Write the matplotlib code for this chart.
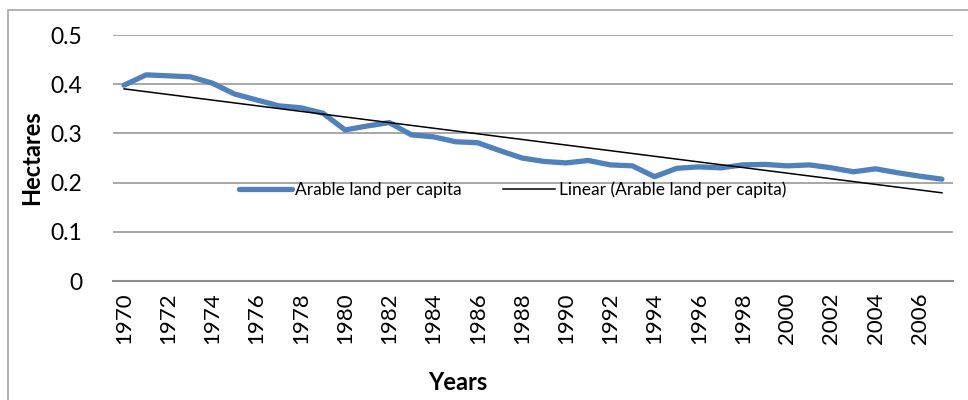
import numpy as np
import matplotlib.pyplot as plt
from matplotlib.patches import Rectangle

plt.rcParams['font.family'] = ['Lato', 'DejaVu Sans']

# data
years = list(range(1970, 2008))
arable = [0.398, 0.419, 0.417, 0.415, 0.402, 0.380, 0.368, 0.356, 0.352, 0.341,
          0.307, 0.315, 0.322, 0.297, 0.293, 0.283, 0.281, 0.265, 0.250, 0.243,
          0.240, 0.245, 0.236, 0.234, 0.212, 0.229, 0.232, 0.230, 0.236, 0.237,
          0.234, 0.236, 0.230, 0.222, 0.228, 0.220, 0.213, 0.207]
yticks = [0, 0.1, 0.2, 0.3, 0.4, 0.5]
ytick_labels = ['0', '0.1', '0.2', '0.3', '0.4', '0.5']

x = np.arange(len(years))
slope, icpt = np.polyfit(x, arable, 1)
trend = slope * x + icpt

fig = plt.figure(figsize=(9.68, 4), dpi=100)
ax = fig.add_axes([113 / 968, 1 - 281 / 400, 840 / 968, 246 / 400])

# outer chart frame
fig.patches.append(Rectangle((8 / 968, -0.1), 2, 1 - 10 / 400 + 0.1,
                             transform=fig.transFigure, fill=False,
                             edgecolor='#a6a6a6', lw=1.2))

ax.plot(x, arable, color='#4f81bd', lw=3.8, solid_capstyle='round',
        solid_joinstyle='round', label='Arable land per capita')
ax.plot(x, trend, color='black', lw=1.1, label='Linear (Arable land per capita)')

ax.set_xlim(-0.5, len(years) - 0.5)
ax.set_ylim(0, 0.5)
ax.set_yticks(yticks)
ax.set_yticklabels(ytick_labels, fontsize=16.5)
ax.set_xticks(x[::2])
ax.set_xticklabels([str(y) for y in years[::2]], rotation=90, fontsize=16)
ax.tick_params(length=0, pad=8)
ax.tick_params(axis='y', pad=22)

ax.grid(axis='y', color='#a0a0a0', lw=1.3)
ax.set_axisbelow(True)
for s in ['top', 'right', 'left']:
    ax.spines[s].set_visible(False)
ax.spines['bottom'].set_color('#8c8c8c')
ax.spines['bottom'].set_linewidth(1.5)

fig.text(32 / 968, 1 - 158 / 400, 'Hectares', rotation=90, fontsize=17,
         fontweight='bold', ha='center', va='center')
fig.text(458 / 968, 1 - 383 / 400, 'Years', fontsize=17, fontweight='bold',
         ha='center', va='center')

ax.legend(loc='center', bbox_to_anchor=(0.476, 0.37), ncol=2, frameon=False,
          fontsize=12.5, handlelength=3.0, handletextpad=0.2, columnspacing=2.4)

fig.savefig('out.png', dpi=100)
